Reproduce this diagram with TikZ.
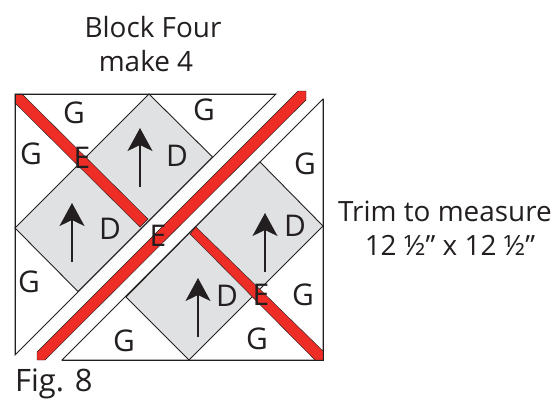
\documentclass[tikz,border=0pt]{standalone}
\usepackage{fontspec}
\setmainfont{Open Sans}
\definecolor{stripred}{RGB}{238,45,39}
\definecolor{patchgrey}{RGB}{224,225,227}
\definecolor{ink}{RGB}{35,31,32}
\usetikzlibrary{arrows.meta}
\tikzset{
  x=1bp,y=-1bp,
  seam/.style={draw=ink,line width=0.9bp},
  patch/.style={fill=patchgrey,draw=ink,line width=0.9bp,line join=miter},
  strip/.style={fill=stripred,draw=ink,line width=0.4bp},
  grain/.style={draw=ink,line width=1.5bp,-{Stealth[length=23bp,width=25bp,inset=6bp]}},
  lab/.style={text=ink,inner sep=0pt,font=\fontsize{30}{32}\selectfont},
  captext/.style={text=ink,inner sep=0pt,align=center,font=\fontsize{28}{34}\selectfont}
}
\begin{document}
\begin{tikzpicture}
\useasboundingbox[fill=white] (0,0) rectangle (558,404);
% triangles
\draw[seam,fill=white] (15,94) -- (276,94) -- (15,355) -- cycle;
\draw[seam,fill=white] (323,99) -- (323,360) -- (62,360) -- cycle;
% grey patches
\draw[patch] (149,94) -- (212.5,157) -- (78,291.5) -- (15,228) -- cycle;
\draw[patch] (260,162) -- (323,226) -- (189,360) -- (126,297) -- cycle;
% red strips
\filldraw[strip] (15,94) -- (22,94) -- (148,219) -- (140,227) -- (15,103) -- cycle;
\filldraw[strip] (298,91) -- (306,91) -- (306,100) -- (45,360) -- (37,360) -- (37,352) -- cycle;
\filldraw[strip] (196,227) -- (323,351) -- (323,360) -- (315,360) -- (190,234) -- cycle;
% outer frame repaint
\draw[seam] (15,94) -- (276,94) (15,94) -- (15,355) (323,99) -- (323,360) -- (62,360);
% arrows
\coordinate (a1s) at (140,187); \coordinate (a1e) at (140,128);
\coordinate (a2s) at (72,262);  \coordinate (a2e) at (72,203);
\coordinate (a3s) at (265,272); \coordinate (a3e) at (265,213);
\coordinate (a4s) at (198,337); \coordinate (a4e) at (198,278);
\draw[grain] (a1s) -- (a1e);
\draw[grain] (a2s) -- (a2e);
\draw[grain] (a3s) -- (a3e);
\draw[grain] (a4s) -- (a4e);
% labels
\node[lab] (g1) at (74,113) {G};
\node[lab] (g2) at (31,154) {G};
\node[lab] (g3) at (204,110) {G};
\node[lab] (g4) at (305,164) {G};
\node[lab] (g5) at (29,282) {G};
\node[lab] (g6) at (124,341) {G};
\node[lab] (g7) at (257,339) {G};
\node[lab] (g8) at (303,295) {G};
\node[lab] (e1) at (82,158) {E};
\node[lab] (e2) at (158,236) {E};
\node[lab] (e3) at (261,295) {E};
\node[lab] (d1) at (177,156) {D};
\node[lab] (d2) at (110,229) {D};
\node[lab] (d3) at (295,226) {D};
\node[lab] (d4) at (227,296) {D};
\node[captext] (title) at (153,44) {Block Four\\\hspace*{-14bp}make 4};
\node[captext] (trim) at (445,228) {Trim to measure\\\hspace*{10bp}12 ½” x 12 ½”};
\node[text=ink,inner sep=0pt,font=\fontsize{31}{34}\selectfont,anchor=west] (fig) at (15,384) {Fig. 8};
\end{tikzpicture}
\end{document}
